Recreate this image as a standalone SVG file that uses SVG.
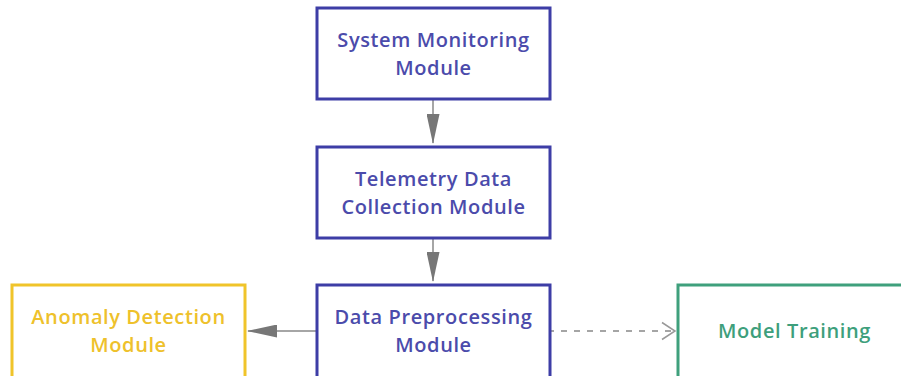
<svg xmlns="http://www.w3.org/2000/svg" width="901" height="376" viewBox="0 0 901 376">
<style>
.box{fill:#fff;stroke-width:3}
.blue{stroke:#3d3da6}
.t{font-family:"Open Sans",sans-serif;font-weight:600;font-size:20px;letter-spacing:0.6px;text-anchor:middle}
.tb{fill:#4b4bab}
.ty{fill:#eec12b}
.tg{fill:#3e9f7c}
.ln{stroke:#888;stroke-width:1.5;fill:none}
</style>
<defs>
<marker id="fa" markerWidth="30" markerHeight="13" refX="29" refY="6.5" orient="auto" markerUnits="userSpaceOnUse" viewBox="0 0 30 13">
<path d="M0,0 L30,6.5 L0,13 Z" fill="#777"/>
</marker>
<marker id="oa" markerWidth="16" markerHeight="20" refX="14" refY="10" orient="auto" markerUnits="userSpaceOnUse" viewBox="0 0 16 20">
<path d="M1,1.5 L14,10 L1,18.5" fill="none" stroke="#999" stroke-width="1.5"/>
</marker>
</defs>
<rect width="901" height="376" fill="#fff"/>
<g id="connectors">
<line class="ln" x1="433" y1="99" x2="433" y2="143" marker-end="url(#fa)"/>
<line class="ln" x1="433" y1="238" x2="433" y2="281" marker-end="url(#fa)"/>
<line class="ln" x1="317" y1="331" x2="248" y2="331" marker-end="url(#fa)"/>
<line class="ln" x1="551" y1="331" x2="675" y2="331" stroke-dasharray="6,7" stroke-dashoffset="-10" stroke="#a8a8a8" stroke-width="2"/>
<line x1="660" y1="331" x2="675" y2="331" stroke="none" marker-end="url(#oa)"/>
</g>
<g id="system-monitoring">
<rect class="box blue" x="317" y="8" width="233" height="91"/>
<text class="t tb" x="433.5" y="47">System Monitoring</text>
<text class="t tb" x="433.5" y="75">Module</text>
</g>
<g id="telemetry">
<rect class="box blue" x="317" y="147" width="233" height="91"/>
<text class="t tb" x="433.5" y="186">Telemetry Data</text>
<text class="t tb" x="433.5" y="214">Collection Module</text>
</g>
<g id="preprocessing">
<rect class="box blue" x="317" y="285" width="233" height="100"/>
<text class="t tb" x="433.5" y="324">Data Preprocessing</text>
<text class="t tb" x="433.5" y="352">Module</text>
</g>
<g id="anomaly">
<rect class="box" stroke="#f0c42a" x="12" y="285" width="233" height="100"/>
<text class="t ty" x="128.5" y="324">Anomaly Detection</text>
<text class="t ty" x="128.5" y="352">Module</text>
</g>
<g id="model-training">
<rect class="box" stroke="#3fa07c" x="678" y="285" width="233" height="100"/>
<text class="t tg" x="794.5" y="338">Model Training</text>
</g>
</svg>
